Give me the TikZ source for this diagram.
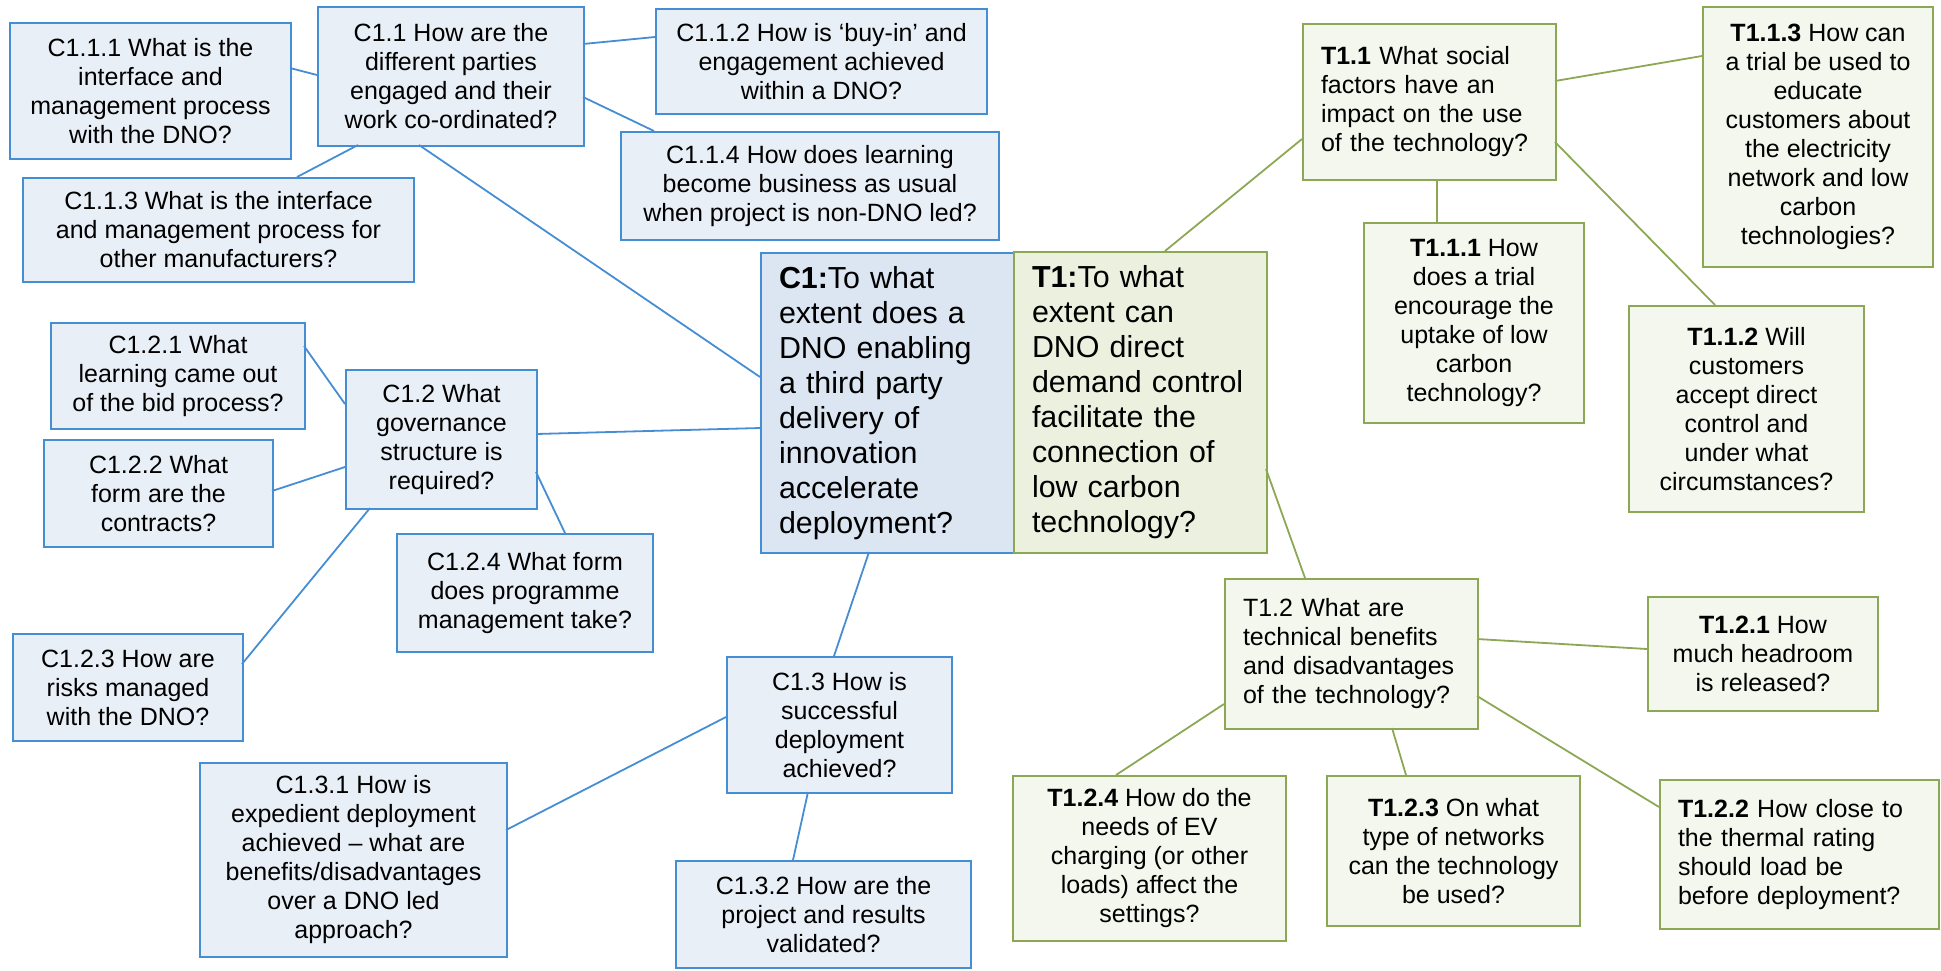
\documentclass[tikz,border=0pt]{standalone}
\usepackage{fontspec}
\setmainfont{Liberation Sans}
\usetikzlibrary{calc}
\definecolor{cline}{RGB}{70,142,212}
\definecolor{cfill}{RGB}{233,239,247}
\definecolor{cmain}{RGB}{220,230,242}
\definecolor{tline}{RGB}{140,168,84}
\definecolor{tfill}{RGB}{244,247,237}
\definecolor{tmain}{RGB}{235,241,222}
\newcommand{\qsize}{\fontsize{12.5pt}{14.5pt}\selectfont}
\newcommand{\bigqsize}{\fontsize{15.2pt}{17.5pt}\selectfont}
\tikzset{
  every picture/.style={line width=0.5pt},
  qbox/.style={draw, rectangle, line width=1pt, inner sep=2pt, align=center, font=\qsize},
  cq/.style={qbox, draw=cline, fill=cfill},
  tq/.style={qbox, draw=tline, fill=tfill},
  bigq/.style={font=\bigqsize, align=left, inner xsep=9pt},
  lefttext/.style={align=left, inner xsep=9pt},
  wh/.style 2 args={minimum width=#1*0.5pt, minimum height=#2*0.5pt},
  clink/.style={draw=cline, line width=0.9pt},
  tlink/.style={draw=tline, line width=0.9pt},
}

\begin{document}
\begin{tikzpicture}[x=0.5pt, y=-0.5pt]
  \useasboundingbox (0,0) rectangle (1941,970);
  % C1 side
  \node[cq, wh={281}{136}] (c111) at (150.5,91) {C1.1.1 What is the\\interface and\\management process\\with the DNO?};
  \node[cq, wh={266}{139}] (c11) at (451,76.5) {C1.1 How are the\\different parties\\engaged and their\\work co-ordinated?};
  \node[cq, wh={331}{105}] (c112) at (821.5,61.5) {C1.1.2 How is `buy-in' and\\engagement achieved\\within a DNO?};
  \node[cq, wh={378}{108}] (c114) at (810,186) {C1.1.4 How does learning\\become business as usual\\when project is non-DNO led?};
  \node[cq, wh={391}{104}] (c113) at (218.5,230) {C1.1.3 What is the interface\\and management process for\\other manufacturers?};
  \node[cq, wh={254}{106}] (c121) at (178,376) {C1.2.1 What\\learning came out\\of the bid process?};
  \node[cq, wh={191}{139}] (c12) at (441.5,439.5) {C1.2 What\\governance\\structure is\\required?};
  \node[cq, wh={229}{107}] (c122) at (158.5,493.5) {C1.2.2 What\\form are the\\contracts?};
  \node[cq, wh={256}{118}] (c124) at (525,593) {C1.2.4 What form\\does programme\\management take?};
  \node[cq, wh={230}{107}] (c123) at (128,687.5) {C1.2.3 How are\\risks managed\\with the DNO?};
  \node[cq, bigq, fill=cmain, text width=108.5pt, minimum height=150pt] (c1) at (887.5,403) {\textbf{C1:}To what\\extent does a\\DNO enabling\\a third party\\delivery of\\innovation\\accelerate\\deployment?};
  \node[cq, wh={225}{136}] (c13) at (839.5,725) {C1.3 How is\\successful\\deployment\\achieved?};
  \node[cq, wh={307}{194}] (c131) at (353.5,860) {C1.3.1 How is\\expedient deployment\\achieved -- what are\\benefits/disadvantages\\over a DNO led\\approach?};
  \node[cq, wh={295}{107}] (c132) at (823.5,914.5) {C1.3.2 How are the\\project and results\\validated?};
  % T1 side
  \node[tq, bigq, fill=tmain, text width=108.5pt, minimum height=150.5pt] (t1) at (1140.5,402.5) {\textbf{T1:}To what\\extent can\\DNO direct\\demand control\\facilitate the\\connection of\\low carbon\\technology?};
  \node[tq, lefttext, text width=108.5pt, minimum height=78pt] (t11) at (1429.5,102) {\textbf{T1.1} What social\\factors have an\\impact on the use\\of the technology?};
  \node[tq, wh={230}{260}] (t113) at (1818,137) {\textbf{T1.1.3} How can\\a trial be used to\\educate\\customers about\\the electricity\\network and low\\carbon\\technologies?};
  \node[tq, wh={220}{200}] (t111) at (1474,323) {\textbf{T1.1.1} How\\does a trial\\encourage the\\uptake of low\\carbon\\technology?};
  \node[tq, wh={235}{206}] (t112) at (1746.5,409) {\textbf{T1.1.2} Will\\customers\\accept direct\\control and\\under what\\circumstances?};
  \node[tq, lefttext, text width=108.5pt, minimum height=75pt] (t12) at (1351.5,654) {T1.2 What are\\technical benefits\\and disadvantages\\of the technology?};
  \node[tq, wh={230}{114}] (t121) at (1763,654) {\textbf{T1.2.1} How\\much headroom\\is released?};
  \node[tq, wh={273}{165}] (t124) at (1149.5,858.5) {\textbf{T1.2.4} How do the\\needs of EV\\charging (or other\\loads) affect the\\settings?};
  \node[tq, wh={253}{150}] (t123) at (1453.5,851) {\textbf{T1.2.3} On what\\type of networks\\can the technology\\be used?};
  \node[tq, lefttext, text width=121.5pt, minimum height=74.5pt] (t122) at (1799.5,854.5) {\textbf{T1.2.2} How close to\\the thermal rating\\should load be\\before deployment?};

  \draw[clink] ($(c111.north west)+(281,46)$) -- ($(c11.north west)+(0,69)$);
  \draw[clink] ($(c11.north west)+(266,38)$) -- ($(c112.north west)+(0,29)$);
  \draw[clink] ($(c11.north west)+(266,91)$) -- ($(c114.north west)+(34,0)$);
  \draw[clink] ($(c11.north west)+(41,139)$) -- ($(c113.north west)+(275,0)$);
  \draw[clink] ($(c11.north west)+(102,139)$) -- ($(c1.north west)+(0,125)$);
  \draw[clink] ($(c121.north west)+(254,24)$) -- ($(c12.north west)+(0,35)$);
  \draw[clink] ($(c12.north west)+(191,65)$) -- ($(c1.north west)+(0,176)$);
  \draw[clink] ($(c12.north west)+(0,98)$) -- ($(c122.north west)+(229,52)$);
  \draw[clink] ($(c12.north west)+(191,103)$) -- ($(c124.north west)+(169,0)$);
  \draw[clink] ($(c12.north west)+(25,139)$) -- ($(c123.north west)+(230,31)$);
  \draw[clink] ($(c1.north west)+(109,300)$) -- ($(c13.north west)+(108,0)$);
  \draw[clink] ($(c13.north west)+(0,61)$) -- ($(c131.north west)+(307,68)$);
  \draw[clink] ($(c13.north west)+(82,136)$) -- ($(c132.north west)+(118,0)$);
  \draw[tlink] ($(t1.north west)+(152,0)$) -- ($(t11.north west)+(0,116)$);
  \draw[tlink] ($(t1.north west)+(253,218)$) -- ($(t12.north west)+(81,0)$);
  \draw[tlink] ($(t11.north west)+(253,58)$) -- ($(t113.north west)+(0,50)$);
  \draw[tlink] ($(t11.north west)+(135,156)$) -- ($(t111.north west)+(74,0)$);
  \draw[tlink] ($(t11.north west)+(253,119)$) -- ($(t112.north west)+(87,0)$);
  \draw[tlink] ($(t12.north west)+(253,61)$) -- ($(t121.north west)+(0,53)$);
  \draw[tlink] ($(t12.north west)+(0,126)$) -- ($(t124.north west)+(104,0)$);
  \draw[tlink] ($(t12.north west)+(168,150)$) -- ($(t123.north west)+(80,0)$);
  \draw[tlink] ($(t12.north west)+(253,118)$) -- ($(t122.north west)+(0,28)$);
\end{tikzpicture}
\end{document}
